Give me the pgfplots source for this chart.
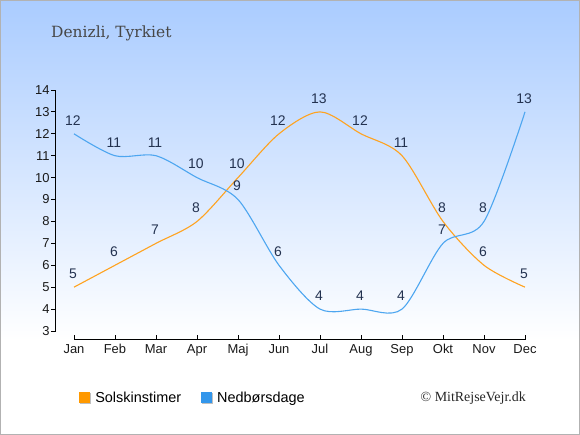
\documentclass[border=0pt]{standalone}
\usepackage{pgfplots}
\pgfplotsset{compat=1.18}
\usepackage{fontspec}
\setmainfont{Liberation Sans}
\newfontfamily\titlefont{DejaVu Serif}
\newfontfamily\copyfont{Liberation Serif}
\definecolor{sunc}{RGB}{255,163,32}
\definecolor{rainc}{RGB}{77,166,240}
\definecolor{sunsq}{RGB}{255,153,0}
\definecolor{rainsq}{RGB}{51,150,235}
\definecolor{lblc}{RGB}{35,50,80}
\definecolor{topc}{RGB}{170,204,255}
\begin{document}
\begin{tikzpicture}[x=1bp,y=1bp]
\useasboundingbox (0,0) rectangle (580,435);
\fill[white] (0,0) rectangle (580,435);
\shade[top color=topc, bottom color=white] (0,95) rectangle (580,435);
\draw[black!30] (0.5,0.5) rectangle (579.5,434.5);
\node[anchor=base west, inner sep=0, font=\titlefont\fontsize{15.5}{18}\selectfont, text=black!72] at (51,397) {Denizli, Tyrkiet};
\node[anchor=base east, inner sep=0, font=\copyfont\fontsize{14}{16}\selectfont, text=black!85] at (526,33) {© MitRejseVejr.dk};
\begin{axis}[
  at={(55bp,95bp)}, anchor=south west,
  scale only axis, width=470bp, height=250bp,
  xmin=-0.463, xmax=11, ymin=2.589, ymax=14,
  clip=false,
  /pgf/number format/assume math mode=true,
  axis line style={draw=none},
  xtick={0,...,11},
  xticklabels={Jan,Feb,Mar,Apr,Maj,Jun,Jul,Aug,Sep,Okt,Nov,Dec},
  ytick={3,...,14},
  xtick pos=bottom, ytick pos=left,
  tick align=inside,
  major tick length=5bp,
  tick style={black, line width=0.9bp},
  y tick style={xshift=-4bp},
  tick label style={font=\fontsize{13}{15}\selectfont, text=black!90},
  x tick label style={yshift=-1bp},
  y tick label style={xshift=-2bp},
  every node near coord/.append style={font=\fontsize{14}{16}\selectfont, text=lblc, anchor=south, inner sep=0pt, yshift=8bp, xshift=-1bp},
  legend style={at={(axis description cs:0.045,-0.232)}, anchor=west, draw=none, fill=none,
    font=\fontsize{14.5}{17}\selectfont, legend columns=2,
    /tikz/every even column/.append style={column sep=18bp}},
  legend cell align=left,
]
\draw[black, line width=1bp] (axis cs:-0.463,3) -- (axis cs:-0.463,14);
\draw[black, line width=1bp] (axis cs:0,2.589) -- (axis cs:11,2.589);
\addplot[sunc, line width=1.1bp, smooth, forget plot, nodes near coords] coordinates {
(0,5) (1,6) (2,7) (3,8) (4,10) (5,12) (6,13) (7,12) (8,11) (9,8) (10,6) (11,5)};
\addplot[rainc, line width=1.1bp, smooth, forget plot, nodes near coords] coordinates {
(0,12) (1,11) (2,11) (3,10) (4,9) (5,6) (6,4) (7,4) (8,4) (9,7) (10,8) (11,13)};
\addlegendimage{legend image code/.code={\path[draw=none,fill=none] (0,0) -- (14bp,0);\fill[black!25,draw=none] (1bp,-6bp) rectangle (12bp,5bp);\fill[sunsq,draw=none] (0,-5bp) rectangle (11bp,6bp);}}
\addlegendentry{Solskinstimer}
\addlegendimage{legend image code/.code={\path[draw=none,fill=none] (0,0) -- (14bp,0);\fill[black!25,draw=none] (1bp,-6bp) rectangle (12bp,5bp);\fill[rainsq,draw=none] (0,-5bp) rectangle (11bp,6bp);}}
\addlegendentry{Nedbørsdage}
\end{axis}
\end{tikzpicture}
\end{document}
